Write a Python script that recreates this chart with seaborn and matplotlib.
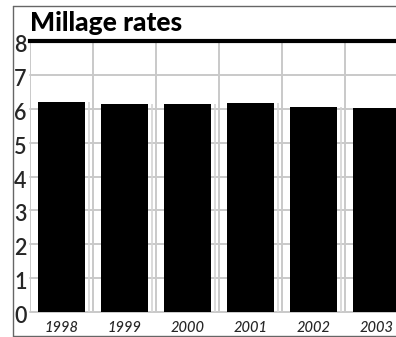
import matplotlib
matplotlib.use("Agg")
import matplotlib.pyplot as plt
from matplotlib.lines import Line2D
from matplotlib.transforms import ScaledTranslation
import seaborn as sns
import pandas as pd

# Millage rates by year
years = ["1998", "1999", "2000", "2001", "2002", "2003"]
rates = [6.20, 6.14, 6.14, 6.16, 6.06, 6.02]
y_ticks = [0, 1, 2, 3, 4, 5, 6, 7, 8]

df = pd.DataFrame({"year": years, "rate": rates})

sns.set_style("white")
plt.rcParams["font.family"] = ["Lato", "DejaVu Sans"]

W, H = 396, 337
fig = plt.figure(figsize=(W / 100, H / 100), dpi=100)
fig.patch.set_facecolor("white")

# plot area runs past the right edge of the figure
left, right = 30, 408
top, bottom = 41.3, 311.7
ax = fig.add_axes([left / W, (H - bottom) / H, (right - left) / W, (bottom - top) / H])
ax.set_facecolor("white")

grid_c = "#c9c9c9"
for v in y_ticks[:-1]:
    ax.axhline(v, color=grid_c, lw=1.4, zorder=0, clip_on=False)
n = len(years)
for i in range(n + 1):
    ax.axvline(i - 0.5, color=grid_c, lw=1.4, zorder=0)

sns.barplot(data=df, x="year", y="rate", order=years, color="black",
            saturation=1, width=0.74, ax=ax, zorder=2, linewidth=0)

# faint edge line to the right of each bar
ax.vlines([i + 0.43 for i in range(n)], 0, rates, color="#d4d4d4", lw=1.2, zorder=1)

ax.set_xlim(-0.5, n - 0.5)
ax.set_ylim(0, 8)
ax.set_yticks(y_ticks)
ax.set_yticklabels([str(v) for v in y_ticks], ha="left", fontsize=15.5,
                   fontweight="semibold")
ax.tick_params(axis="y", length=0, pad=16 * 0.72)
shift = ScaledTranslation(0, -2.5 / 100, fig.dpi_scale_trans)
for lbl in ax.get_yticklabels():
    lbl.set_transform(lbl.get_transform() + shift)
ax.set_xticks(range(n))
ax.set_xticklabels(years, fontsize=10.5, style="italic", fontweight="medium")
ax.tick_params(axis="x", length=0, pad=7)
ax.set_xlabel("")
ax.set_ylabel("")

for s in ["left", "right", "bottom"]:
    ax.spines[s].set_visible(False)
ax.spines["top"].set_visible(True)
ax.spines["top"].set_color("black")
ax.spines["top"].set_linewidth(3.0)
ax.spines["top"].set_zorder(5)

# outer frame
fc = "#666666"
fig.add_artist(Line2D([13.5 / W, 13.5 / W], [(H - 6) / H, (H - 336) / H],
                      transform=fig.transFigure, color=fc, lw=1))
fig.add_artist(Line2D([13.5 / W, 1.0], [(H - 6) / H, (H - 6) / H],
                      transform=fig.transFigure, color=fc, lw=1))
fig.add_artist(Line2D([13.5 / W, 1.0], [(H - 336) / H, (H - 336) / H],
                      transform=fig.transFigure, color=fc, lw=1))

fig.text(30 / W, (H - 31) / H, "Millage rates", fontsize=19, fontweight="black",
         va="baseline", ha="left", color="black")

fig.savefig("out.png", dpi=100)
